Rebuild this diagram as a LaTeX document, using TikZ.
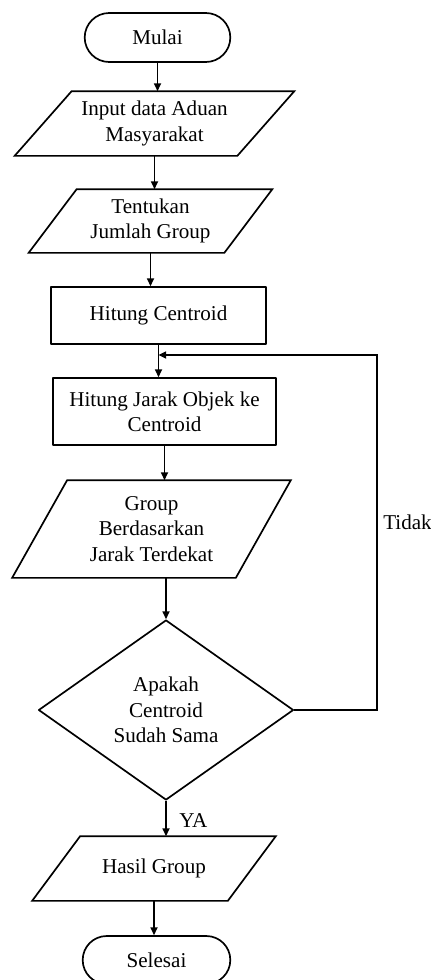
\documentclass[tikz,border=0pt]{standalone}
\usepackage{fontspec}
\setmainfont{Liberation Serif}
\usetikzlibrary{calc,arrows.meta,shapes.misc,shapes.geometric}
\def\pxu{0.025cm}
\tikzset{
  box/.style={line width=1.2pt, line join=round, font=\fontsize{15}{18}\selectfont, align=center},
  term/.style={box, draw=black, rounded rectangle},
  proc/.style={box, draw=black, rectangle},
  io/.style={box, rectangle, inner sep=0pt},
  decision/.style={box, draw=black, diamond, inner sep=0pt},
  ioline/.style={draw=black, line width=1.2pt, line join=miter},
  flow/.style={draw=black, line width=1.1pt, -{Triangle[length=5.5pt,width=5pt]}},
  lab/.style={font=\fontsize{15}{18}\selectfont, inner sep=0pt},
}
% parallelogram round an io node: name, slant (px)
\newcommand{\ioshape}[2]{%
  \draw[ioline] ($(#1.south west)+(-#2/2,0)$) -- ($(#1.south east)+(-#2/2,0)$)
    -- ($(#1.north east)+(#2/2,0)$) -- ($(#1.north west)+(#2/2,0)$) -- cycle;}

\begin{document}
\begin{tikzpicture}[x=\pxu, y=-\pxu]
  \useasboundingbox (0,0) rectangle (431,980);
  % nodes
  \node[term, minimum width=155*\pxu, minimum height=49*\pxu] (mulai) at (157.5,37.5) {Mulai};
  \node[io, minimum width=221*\pxu, minimum height=63*\pxu] (input) at (154.5,123.5) {Input data Aduan\\Masyarakat};
  \ioshape{input}{57}
  \node[io, minimum width=194*\pxu, minimum height=62*\pxu] (jumlah) at (150.5,221) {Tentukan\\Jumlah Group};
  \ioshape{jumlah}{48}
  \node[proc, minimum width=215*\pxu, minimum height=57*\pxu] (centroid) at (158.5,315.5) {Hitung Centroid};
  \node[proc, minimum width=223*\pxu, minimum height=67*\pxu] (jarak) at (164.5,411.5) {Hitung Jarak Objek ke\\Centroid};
  \node[io, minimum width=222*\pxu, minimum height=96*\pxu] (group) at (151.5,529) {Group\\Berdasarkan\\Jarak Terdekat};
  \ioshape{group}{55}
  \node[decision, minimum width=255*\pxu, minimum height=180*\pxu] (cek) at (166,710) {Apakah\\Centroid\\Sudah Sama};
  \node[io, minimum width=194*\pxu, minimum height=63*\pxu] (hasil) at (154,868.5) {Hasil Group};
  \ioshape{hasil}{48}
  \node[term, minimum width=157*\pxu, minimum height=48*\pxu] (selesai) at (156.5,960) {Selesai};
  % connectors
  \draw[flow] (mulai.south) -- (mulai.south |- input.north);
  \draw[flow] (input.south) -- (input.south |- jumlah.north);
  \draw[flow] (jumlah.south) -- (jumlah.south |- centroid.north);
  \draw[flow] (centroid.south) -- (centroid.south |- jarak.north);
  \draw[flow] (jarak.south) -- (jarak.south |- group.north);
  \draw[flow] (group.south -| cek.north) -- (cek.north);
  \draw[flow] (cek.south) -- (cek.south |- hasil.north);
  \draw[flow] (hasil.south) -- (hasil.south |- selesai.north);
  % loop back
  \coordinate (back) at (377,355);
  \draw[flow] (cek.east) -| (back) -- (centroid.south |- back);
  \node[lab, anchor=west] (tidak) at (383,522) {Tidak};
  \node[lab, anchor=west] (ya) at (179,821) {YA};
\end{tikzpicture}
\end{document}
